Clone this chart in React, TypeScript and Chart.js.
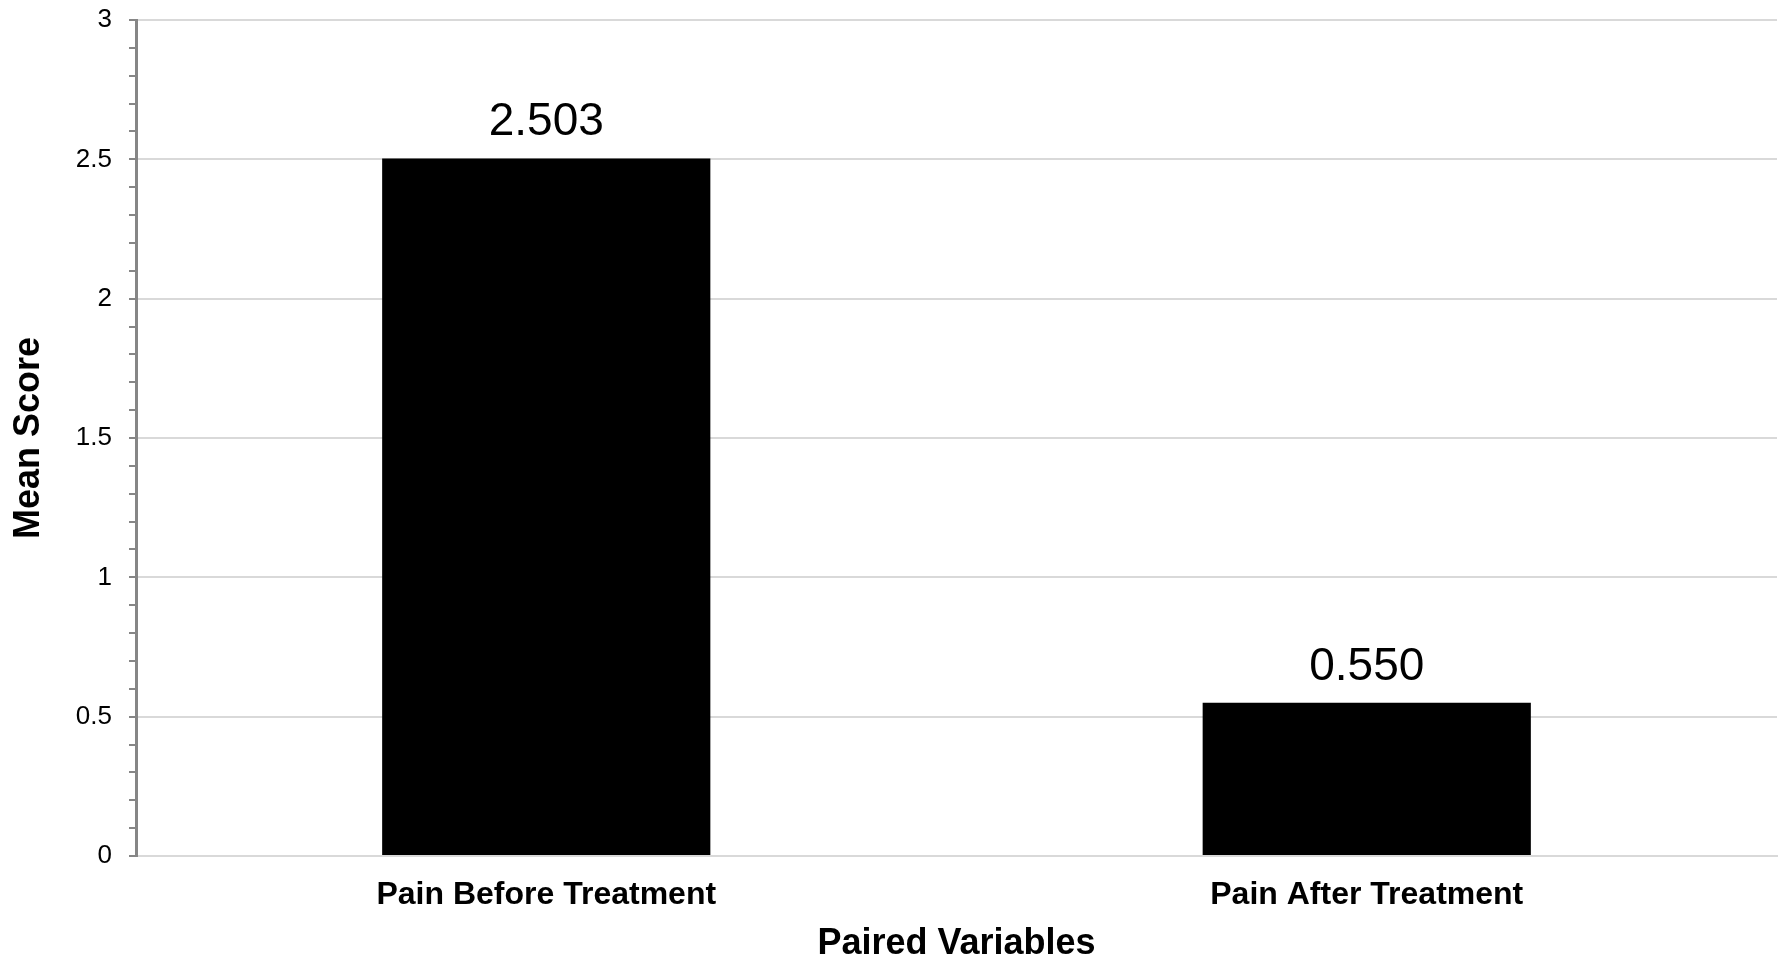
import React, { useEffect, useRef } from "react";
import { Chart, registerables } from "chart.js";

Chart.register(...registerables);

const categories: string[] = ["Pain Before Treatment", "Pain After Treatment"];
const meanScores: number[] = [2.503, 0.55];
const yMin = 0;
const yMax = 3;
const yMinorStep = 0.1;
const yMajorStep = 0.5;
const xTitle = "Paired Variables";
const yTitle = "Mean Score";

const FONT = "'Liberation Sans', Arial, Helvetica, sans-serif";

const isMajor = (v: number) => Math.abs(v / yMajorStep - Math.round(v / yMajorStep)) < 1e-6;

const dataLabelPlugin = {
  id: "dataLabels",
  afterDatasetsDraw(chart: any) {
    const ctx = chart.ctx;
    const meta = chart.getDatasetMeta(0);
    ctx.save();
    ctx.font = `46px ${FONT}`;
    ctx.fillStyle = "#000000";
    ctx.textAlign = "center";
    ctx.textBaseline = "alphabetic";
    meta.data.forEach((bar: any, i: number) => {
      const v = chart.data.datasets[0].data[i] as number;
      ctx.fillText(v.toFixed(3), bar.x, bar.y - 23);
    });
    ctx.restore();
  },
};

export default function App() {
  const canvasRef = useRef<HTMLCanvasElement | null>(null);

  useEffect(() => {
    if (!canvasRef.current) return;
    const chart = new Chart(canvasRef.current, {
      type: "bar",
      data: {
        labels: categories,
        datasets: [
          {
            data: meanScores,
            backgroundColor: "#000000",
            borderWidth: 0,
            barPercentage: 0.4,
            categoryPercentage: 1.0,
          },
        ],
      },
      options: {
        responsive: false,
        animation: false,
        layout: { padding: { top: 0, right: 8, bottom: 0, left: 0 } },
        plugins: {
          legend: { display: false },
          tooltip: { enabled: false },
          title: { display: false },
        },
        scales: {
          x: {
            grid: { display: false, drawTicks: false },
            border: { display: true, color: "#d9d9d9", width: 2 },
            ticks: {
              color: "#000000",
              padding: 20,
              font: { family: FONT, size: 32, weight: "bold" },
            },
            title: {
              display: true,
              text: xTitle,
              color: "#000000",
              font: { family: FONT, size: 36, weight: "bold" },
              padding: { top: 0, bottom: -6 },
            },
            afterFit: (scale: any) => {
              scale.height = 104;
            },
          },
          y: {
            min: yMin,
            max: yMax,
            grid: {
              color: (c: any) => (c.tick && isMajor(c.tick.value) ? "#d9d9d9" : "rgba(0,0,0,0)"),
              lineWidth: 2,
              drawTicks: true,
              tickLength: 7,
              tickColor: "#868686",
              tickWidth: 2,
            },
            border: { display: true, color: "#868686", width: 3 },
            ticks: {
              stepSize: yMinorStep,
              maxTicksLimit: 100,
              autoSkip: false,
              padding: 17,
              color: "#000000",
              font: { family: FONT, size: 26 },
              callback: (v: any) => (isMajor(Number(v)) ? String(Number(v)) : ""),
            },
            title: {
              display: true,
              text: yTitle,
              color: "#000000",
              font: { family: FONT, size: 36, weight: "bold" },
              padding: { top: 7, bottom: 10 },
            },
            afterFit: (scale: any) => {
              scale.width = 136;
              scale.paddingTop = 20;
            },
          },
        },
      },
      plugins: [dataLabelPlugin],
    });
    return () => chart.destroy();
  }, []);

  return (
    <div style={{ position: "fixed", left: 0, top: 0, width: 1785, height: 960, background: "#ffffff" }}>
      <canvas ref={canvasRef} width={1785} height={960} style={{ display: "block" }} />
    </div>
  );
}
